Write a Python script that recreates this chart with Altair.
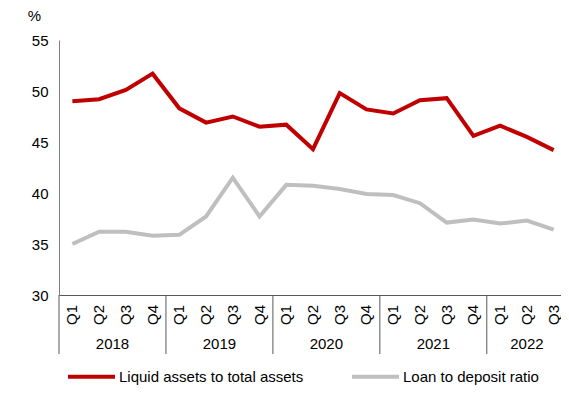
import altair as alt
import pandas as pd

years = ["2018"] * 4 + ["2019"] * 4 + ["2020"] * 4 + ["2021"] * 4 + ["2022"] * 3
quarters = ["Q1", "Q2", "Q3", "Q4"] * 4 + ["Q1", "Q2", "Q3"]
liquid = [49.0, 49.2, 50.1, 51.7, 48.3, 46.9, 47.5, 46.5, 46.7, 44.3,
          49.8, 48.2, 47.8, 49.1, 49.3, 45.6, 46.6, 45.5, 44.2]
ltd = [35.0, 36.2, 36.2, 35.8, 35.9, 37.7, 41.5, 37.7, 40.8, 40.7,
       40.4, 39.9, 39.8, 39.0, 37.1, 37.4, 37.0, 37.3, 36.4]
series_names = ["Liquid assets to total assets", "Loan to deposit ratio"]
year_labels = ["2018", "2019", "2020", "2021", "2022"]
year_bounds = [0, 4, 8, 12, 16, 19]
y_ticks = [30, 35, 40, 45, 50, 55]

n = len(quarters)
pos = [i + 0.5 for i in range(n)]
df = pd.DataFrame({
    "pos": pos * 2,
    "value": liquid + ltd,
    "series": [series_names[0]] * n + [series_names[1]] * n,
})
qdf = pd.DataFrame({"pos": pos, "q": quarters})
ydf = pd.DataFrame({
    "year": year_labels,
    "mid": [(a + b) / 2 for a, b in zip(year_bounds[:-1], year_bounds[1:])],
})
bdf = pd.DataFrame({"b": year_bounds})

FONT = "Liberation Sans"
xs = alt.Scale(domain=[0, 19], nice=False, zero=False)
ys = alt.Scale(domain=[30, 55], nice=False, zero=False)

lines = alt.Chart(df).mark_line(strokeWidth=4).encode(
    x=alt.X("pos:Q", scale=xs,
            axis=alt.Axis(labels=False, ticks=False, grid=False, title=None,
                          domainColor="#595959", domainWidth=1)),
    y=alt.Y("value:Q", scale=ys,
            axis=alt.Axis(values=y_ticks, ticks=False, grid=False, title="%",
                          titleAngle=0, titleAlign="center", titleBaseline="middle",
                          titleX=-25, titleY=-25, titleFontSize=15,
                          titleFontWeight="normal", titleFont=FONT, titleColor="#000000",
                          labelFontSize=15, labelFont=FONT, labelColor="#000000",
                          labelPadding=11, domainColor="#808080", domainWidth=1)),
    color=alt.Color("series:N",
                    scale=alt.Scale(domain=series_names, range=["#C00000", "#BFBFBF"]),
                    legend=alt.Legend(title=None, orient="none", direction="horizontal",
                                      legendX=7, legendY=311, symbolType="stroke",
                                      symbolSize=2209, symbolStrokeWidth=4,
                                      labelFontSize=15, labelFont=FONT, labelColor="#000000",
                                      labelLimit=400, labelOffset=2, columnPadding=40,
                                      padding=0)),
)

seps = alt.Chart(bdf).mark_rule(color="#595959", strokeWidth=1).encode(
    x=alt.X("b:Q", scale=xs),
    y=alt.value(255),
    y2=alt.value(314),
)

qtext = alt.Chart(qdf).mark_text(angle=270, align="right", baseline="middle",
                                 fontSize=15, font=FONT, color="#000000").encode(
    x=alt.X("pos:Q", scale=xs),
    y=alt.value(265),
    text="q:N",
)

ytext = alt.Chart(ydf).mark_text(align="center", baseline="middle",
                                 fontSize=15, font=FONT, color="#000000").encode(
    x=alt.X("mid:Q", scale=xs),
    y=alt.value(304),
    text="year:N",
)

chart = alt.layer(seps, lines, qtext, ytext).properties(
    width=508, height=255,
    autosize=alt.AutoSizeParams(type="none"),
    padding={"left": 51, "top": 32, "right": -6, "bottom": 91},
).configure_view(stroke=None)

chart.save("out.html", embed_options={"renderer": "svg", "actions": False})
